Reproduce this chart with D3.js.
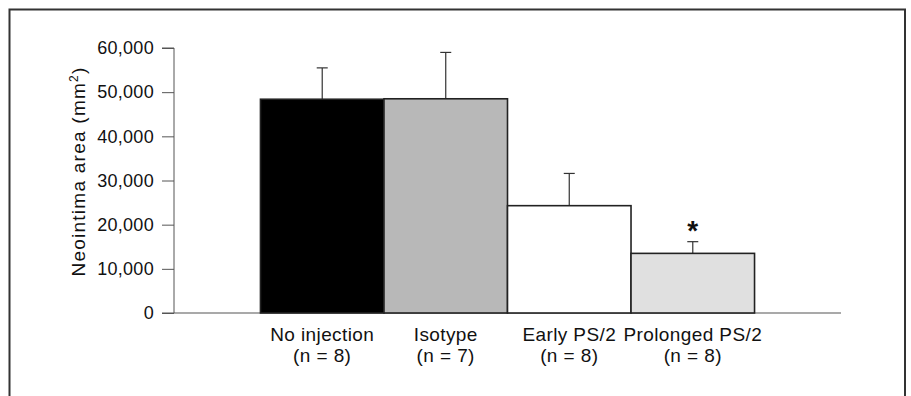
<!DOCTYPE html>
<html><head><meta charset="utf-8">
<script src="https://cdn.jsdelivr.net/npm/d3@7"></script>
<style>body{margin:0;background:#fff;} text{font-family:"Liberation Sans",Arial,sans-serif;}</style>
</head><body>
<svg id="c" width="911" height="396"></svg>
<script>
const categories = ["No injection", "Isotype", "Early PS/2", "Prolonged PS/2"];
const nLabels = ["(n = 8)", "(n = 7)", "(n = 8)", "(n = 8)"];
const means = [48400, 48500, 24300, 13500];
const errors = [7100, 10500, 7300, 2650];
const fills = ["#000000", "#b8b8b8", "#ffffff", "#e0e0e0"];
const significant = [false, false, false, true];
const yTicks = [0, 10000, 20000, 30000, 40000, 50000, 60000];

(function () {
const svg = d3.select("#c");
svg.append("rect").attr("x", 9.5).attr("y", 9.5).attr("width", 895.5).attr("height", 400)
  .attr("fill", "none").attr("stroke", "#333").attr("stroke-width", 2);

const pl = 174, pr = 841, pt = 48, pb = 313;
const x = d3.scaleBand().domain(categories).range([pl, pr]).paddingInner(0).paddingOuter(0.7);
const y = d3.scaleLinear().domain([0, 60000]).range([pb, pt]);

const yAxis = svg.append("g").attr("transform", `translate(${pl},0)`)
  .call(d3.axisLeft(y).tickValues(yTicks).tickFormat(d3.format(",")).tickSize(12).tickPadding(8));
yAxis.select(".domain").attr("d", `M-12,${pt}H0V${pb}H-12`).attr("stroke", "#555");
yAxis.selectAll(".tick line").attr("stroke", "#555");
yAxis.selectAll(".tick text").attr("font-size", 18).attr("letter-spacing", 0.3).attr("fill", "#111")
  .style("font-family", "Liberation Sans, Arial, sans-serif");

svg.append("line").attr("x1", pl).attr("x2", pr).attr("y1", pb).attr("y2", pb)
  .attr("stroke", "#555").attr("stroke-width", 1.2);

svg.append("text").attr("transform", `translate(85,${(pt + pb) / 2 - 9}) rotate(-90)`)
  .attr("text-anchor", "middle").attr("font-size", 19).attr("letter-spacing", 1.25).attr("fill", "#111")
  .html('Neointima area (mm<tspan baseline-shift="super" font-size="12">2</tspan>)');

const eb = svg.append("g");
categories.forEach((c, i) => {
  const cx = x(c) + x.bandwidth() / 2;
  eb.append("line").attr("x1", cx).attr("x2", cx).attr("y1", y(means[i])).attr("y2", y(means[i] + errors[i]))
    .attr("stroke", "#333").attr("stroke-width", 1.2);
  eb.append("line").attr("x1", cx - 5.5).attr("x2", cx + 5.5).attr("y1", y(means[i] + errors[i])).attr("y2", y(means[i] + errors[i]))
    .attr("stroke", "#333").attr("stroke-width", 1.2);
});

svg.append("g").selectAll("rect").data(categories).join("rect")
  .attr("x", d => x(d)).attr("width", x.bandwidth())
  .attr("y", (d, i) => y(means[i])).attr("height", (d, i) => pb - y(means[i]))
  .attr("fill", (d, i) => fills[i]).attr("stroke", "#222").attr("stroke-width", 1.6);

categories.forEach((c, i) => {
  if (!significant[i]) return;
  svg.append("text").attr("x", x(c) + x.bandwidth() / 2).attr("y", y(means[i] + errors[i]) - 2)
    .attr("text-anchor", "middle").attr("font-size", 28).attr("font-weight", "bold").attr("fill", "#111").text("*");
});

const lab = svg.append("g");
categories.forEach((c, i) => {
  const cx = x(c) + x.bandwidth() / 2;
  lab.append("text").attr("x", cx).attr("y", 341).attr("text-anchor", "middle").attr("font-size", 19)
    .attr("letter-spacing", 0.4).attr("fill", "#111").text(c);
  lab.append("text").attr("x", cx).attr("y", 362).attr("text-anchor", "middle").attr("font-size", 19)
    .attr("letter-spacing", 0.4).attr("fill", "#111").text(nLabels[i]);
});
})();
</script>
</body></html>
